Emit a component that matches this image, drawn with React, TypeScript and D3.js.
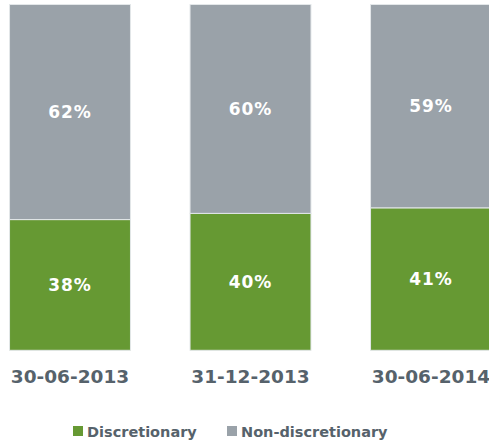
import React from "react";
import * as d3 from "d3";

const categories = ["30-06-2013", "31-12-2013", "30-06-2014"];
const discretionary = [37.8, 39.6, 41.2];
const nonDiscretionary = [62.2, 60.4, 58.8];
const seriesNames = ["Discretionary", "Non-discretionary"];
const seriesColors = ["#669933", "#9aa2a9"];

const W = 489;
const H = 441;
const FONT = "'DejaVu Sans', Verdana, sans-serif";
const TEXT_COLOR = "#56626b";

export default function App() {
  const x = d3
    .scaleBand<string>()
    .domain(categories)
    .range([-20.25, 521.25])
    .paddingInner(0.33)
    .paddingOuter(0.165);
  const y = d3.scaleLinear().domain([0, 100]).range([350.3, 4.5]);

  const rows = categories.map((c, i) => ({
    cat: c,
    Discretionary: discretionary[i],
    "Non-discretionary": nonDiscretionary[i],
  }));
  const stack = d3.stack<any>().keys(seriesNames);
  const layers = stack(rows);

  const legendItems = [
    { name: seriesNames[0], color: seriesColors[0], x: 73 },
    { name: seriesNames[1], color: seriesColors[1], x: 227 },
  ];

  return (
    <svg
      width={W}
      height={H}
      style={{ position: "absolute", left: 0, top: 0, background: "#fff" }}
    >
      {layers.map((layer, li) => (
        <g key={layer.key}>
          {layer.map((d, i) => {
            const x0 = x(categories[i])!;
            const bw = x.bandwidth();
            const yTop = y(d[1]);
            const yBot = y(d[0]);
            const val = d[1] - d[0];
            return (
              <g key={i}>
                <rect
                  x={x0}
                  y={yTop}
                  width={bw}
                  height={yBot - yTop}
                  fill={seriesColors[li]}
                  stroke="#e3e7e9"
                  strokeWidth={1}
                />
                <text
                  x={x0 + bw / 2}
                  y={(yTop + yBot) / 2}
                  dy="0.36em"
                  textAnchor="middle"
                  fill="#ffffff"
                  fontFamily={FONT}
                  fontWeight="bold"
                  fontSize={17}
                  letterSpacing={1}
                >
                  {Math.round(val) + "%"}
                </text>
              </g>
            );
          })}
        </g>
      ))}
      {categories.map((c) => (
        <text
          key={c}
          x={x(c)! + x.bandwidth() / 2}
          y={382.7}
          textAnchor="middle"
          fill={TEXT_COLOR}
          fontFamily={FONT}
          fontWeight="bold"
          fontSize={18.5}
        >
          {c}
        </text>
      ))}
      {legendItems.map((it) => (
        <g key={it.name}>
          <rect x={it.x} y={426} width={10} height={10} fill={it.color} />
          <text
            x={it.x + 14}
            y={436.5}
            fill={TEXT_COLOR}
            fontFamily={FONT}
            fontWeight="bold"
            fontSize={14.5}
          >
            {it.name}
          </text>
        </g>
      ))}
    </svg>
  );
}
